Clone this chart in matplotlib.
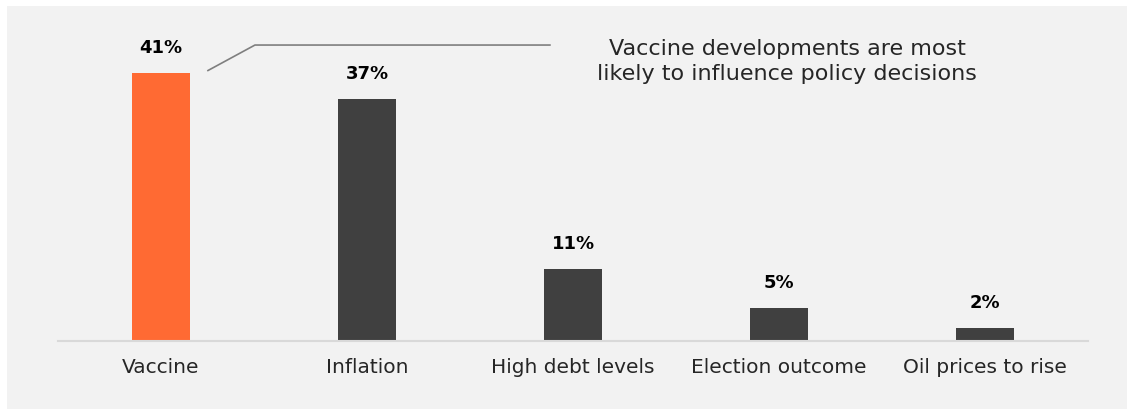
import matplotlib
matplotlib.use("Agg")
from matplotlib import pyplot as plt

# data
categories = ["Vaccine", "Inflation", "High debt levels", "Election outcome", "Oil prices to rise"]
shares = [41, 37, 11, 5, 2]
value_labels = ["41%", "37%", "11%", "5%", "2%"]
note = "Vaccine developments are most\nlikely to influence policy decisions"

orange = "#ff6a33"
dark = "#404040"
panel = "#f2f2f2"

fig = plt.figure(figsize=(11.27, 4.09), dpi=100)
fig.patch.set_facecolor("white")

# grey panel behind the chart
bg = fig.add_axes([7 / 1127, 0, 1 - 7 / 1127, 403 / 409], zorder=0)
bg.axis("off")
bg.add_artist(plt.Rectangle((0, 0), 1, 1, transform=bg.transAxes,
                            facecolor=panel, edgecolor="none"))

ax = fig.add_axes([58 / 1127, 68 / 409, 1030 / 1127, 294 / 409], zorder=1)
ax.set_facecolor("none")

colors = [orange] + [dark] * (len(shares) - 1)
bars = ax.bar(range(len(categories)), shares, width=0.286, color=colors, zorder=2)

for b, lab in zip(bars, value_labels):
    ax.annotate(lab, (b.get_x() + b.get_width() / 2, b.get_height()),
                xytext=(0, 11.5), textcoords="offset points",
                ha="center", va="bottom", fontsize=13, fontweight="bold",
                color="black")

ax.set_xlim(-0.5, len(categories) - 0.5)
ax.set_ylim(0, 45)
ax.set_xticks(range(len(categories)))
ax.set_xticklabels(categories, fontsize=14.5, color="#262626")
ax.tick_params(axis="x", length=0, pad=12)
ax.set_yticks([])
for s in ["top", "right", "left"]:
    ax.spines[s].set_visible(False)
ax.spines["bottom"].set_color("#d9d9d9")
ax.spines["bottom"].set_linewidth(1.5)

# callout line from the vaccine bar to the note
first = bars[0]
x0 = first.get_x() + first.get_width() + 0.085
ax.plot([x0, x0 + 0.228, 1.888], [shares[0] + 0.4, 45.3, 45.3],
        color="#7f7f7f", lw=1.2, clip_on=False, zorder=3)
ax.text(3.04, 42.8, note, ha="center", va="center", fontsize=16,
        color="#262626", linespacing=1.35)

fig.savefig("out.png", dpi=100, facecolor=fig.get_facecolor())
